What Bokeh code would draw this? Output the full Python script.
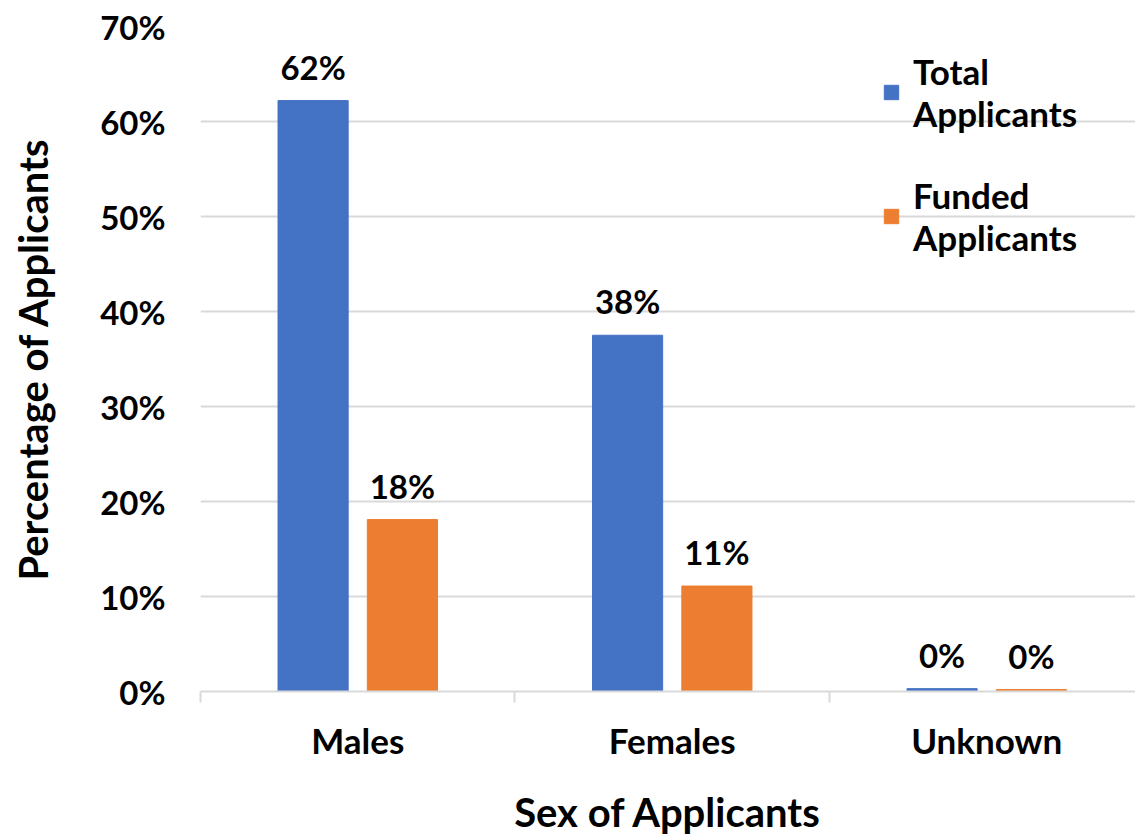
from bokeh.plotting import figure
from bokeh.models import ColumnDataSource, LabelSet, FixedTicker, Range1d, Legend, LegendItem
from bokeh.transform import dodge
from bokeh.core.properties import value
from bokeh.embed import file_html
from bokeh.resources import INLINE

categories = ["Males", "Females", "Unknown"]
total_applicants = [62.2, 37.5, 0.3]
funded_applicants = [18.1, 11.1, 0.2]
total_labels = ["62%", "38%", "0%"]
funded_labels = ["18%", "11%", "0%"]
y_ticks = [0, 10, 20, 30, 40, 50, 60, 70]

FONT = "Lato"
BLUE = "#4472C4"
ORANGE = "#ED7D31"
GRID = "#D9D9D9"

xs = [i + 0.5 for i in range(len(categories))]
src = ColumnDataSource(dict(x=xs, total=total_applicants, funded=funded_applicants,
                            tl=total_labels, fl=funded_labels))

p = figure(width=1135, height=839, output_backend="svg", toolbar_location=None,
           x_range=Range1d(0, 2.973), y_range=Range1d(0, 70),
           min_border_left=200, min_border_top=26, min_border_bottom=148, min_border_right=0)
p.outline_line_color = None
p.background_fill_color = "white"

off = 0.142
w = 0.223
r1 = p.vbar(x=dodge("x", -off), top="total", width=w, source=src, color=BLUE)
r2 = p.vbar(x=dodge("x", off), top="funded", width=w, source=src, color=ORANGE)

for col, lab, o in [("total", "tl", -off), ("funded", "fl", off)]:
    ls = LabelSet(x=dodge("x", o), y=col, text=lab, source=src, text_align="center",
                  text_baseline="bottom", y_offset=14, text_font=value(FONT),
                  text_font_style="bold", text_font_size="33px", text_color="black")
    p.add_layout(ls)

# x axis
p.xaxis.ticker = FixedTicker(ticks=xs, minor_ticks=[0, 1, 2, 3])
p.xaxis.major_label_overrides = {x: c for x, c in zip(xs, categories)}
p.xaxis.major_tick_line_color = None
p.xaxis.minor_tick_in = 0
p.xaxis.minor_tick_out = 11
p.xaxis.minor_tick_line_color = GRID
p.xaxis.minor_tick_line_width = 2
p.xaxis.axis_line_color = GRID
p.xaxis.axis_line_width = 2
p.xaxis.major_label_standoff = 16
p.xaxis.major_label_text_font = FONT
p.xaxis.major_label_text_font_style = "bold"
p.xaxis.major_label_text_font_size = "35px"
p.xaxis.major_label_text_color = "black"
p.xaxis.axis_label = "Sex of Applicants"
p.xaxis.axis_label_text_font = FONT
p.xaxis.axis_label_text_font_style = "bold"
p.xaxis.axis_label_text_font_size = "40px"
p.xaxis.axis_label_text_color = "black"
p.xaxis.axis_label_standoff = 24

# y axis
p.yaxis.ticker = FixedTicker(ticks=y_ticks)
p.yaxis.major_label_overrides = {t: f"{t}%" for t in y_ticks}
p.yaxis.axis_line_color = None
p.yaxis.major_tick_line_color = None
p.yaxis.minor_tick_line_color = None
p.yaxis.major_label_standoff = 29
p.yaxis.major_label_text_font = FONT
p.yaxis.major_label_text_font_style = "bold"
p.yaxis.major_label_text_font_size = "33px"
p.yaxis.major_label_text_color = "black"
p.yaxis.axis_label = "Percentage of Applicants"
p.yaxis.axis_label_text_font = FONT
p.yaxis.axis_label_text_font_style = "bold"
p.yaxis.axis_label_text_font_size = "40px"
p.yaxis.axis_label_text_color = "black"
p.yaxis.axis_label_standoff = 40

p.xgrid.grid_line_color = None
p.ygrid.grid_line_color = GRID
p.ygrid.grid_line_width = 2

legend = Legend(items=[LegendItem(label="Total\nApplicants", renderers=[r1]),
                       LegendItem(label="Funded\nApplicants", renderers=[r2])],
                location=(682, 433), margin=0, padding=0, spacing=40,
                glyph_width=18, glyph_height=18, label_standoff=13,
                label_text_font=FONT, label_text_font_style="bold",
                label_text_font_size="35px", label_text_color="black",
                label_text_line_height=1.25,
                border_line_color=None, background_fill_alpha=0)
p.add_layout(legend)

open("out.html", "w").write(file_html(p, INLINE))
